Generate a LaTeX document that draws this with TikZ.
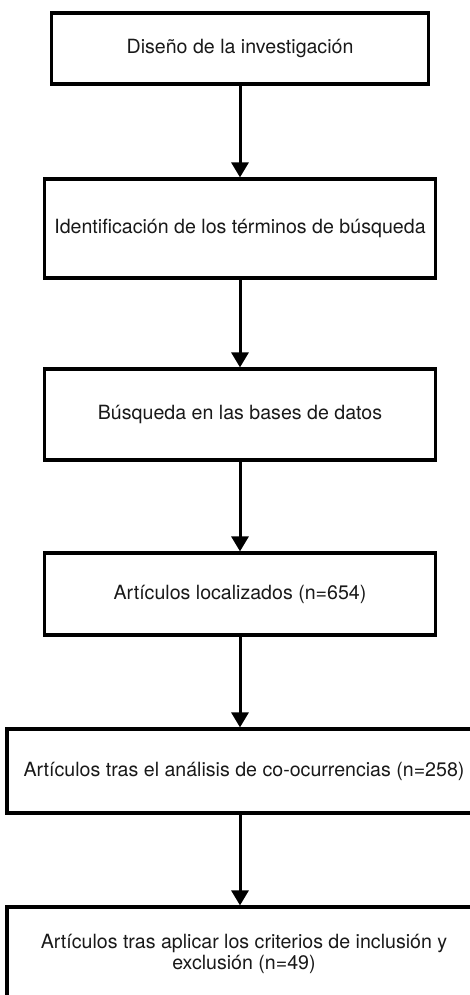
\documentclass[tikz,border=0pt]{standalone}
\usepackage{fontspec}
\setmainfont{TeX Gyre Heros}
\usetikzlibrary{arrows.meta}
\begin{document}
\begin{tikzpicture}[x=1pt,y=1pt,
  box/.style={draw=black, line width=3.2pt, rectangle, inner sep=0pt,
    font=\fontsize{19.6}{21}\selectfont, align=center, text=black!90},
  conn/.style={line width=3pt, -{Triangle[width=17pt,length=15pt]}}]
\useasboundingbox (0,0) rectangle (470,-995);
\clip (0,0) rectangle (470,-995);
\node[box, minimum width=377pt, minimum height=71pt] (b1) at (240,-48.5) {Diseño de la investigación};
\node[box, minimum width=391pt, minimum height=99pt] (b2) at (240,-228.5) {Identificación de los términos de búsqueda};
\node[box, minimum width=391pt, minimum height=91pt] (b3) at (240,-414.5) {Búsqueda en las bases de datos};
\node[box, minimum width=391pt, minimum height=82pt] (b4) at (240,-594) {Artículos localizados (n=654)};
\node[box, minimum width=474pt, minimum height=84pt] (b5) at (244,-771) {Artículos tras el análisis de co-ocurrencias (n=258)};
\node[box, minimum width=474pt, minimum height=93pt] (b6) at (244,-953.5) {Artículos tras aplicar los criterios de inclusión y\\exclusión (n=49)};
\draw[conn] (b1) -- (b2);
\draw[conn] (b2) -- (b3);
\draw[conn] (b3) -- (b4);
\draw[conn] (b4.south) -- (b4.south |- b5.north);
\draw[conn] (b5.south -| b4.south) -- (b4.south |- b6.north);
\end{tikzpicture}
\end{document}
